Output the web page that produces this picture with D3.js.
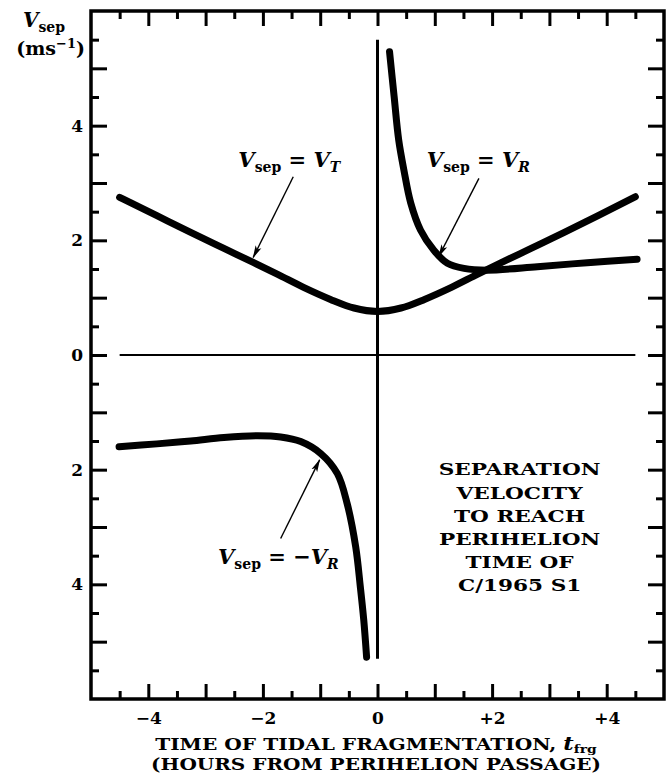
<!DOCTYPE html>
<html>
<head>
<meta charset="utf-8">
<script src="https://cdn.jsdelivr.net/npm/d3@7/dist/d3.min.js"></script>
<style>
  body { margin: 0; background: #fff; }
  svg { display: block; }
  .tick text { font-family: "DejaVu Serif", serif; font-weight: bold; font-size: 17px; fill: #000; }
  .tick line { stroke: #000; stroke-width: 3; }
  .curve { fill: none; stroke: #000; stroke-width: 7; stroke-linecap: round; stroke-linejoin: round; }
  .lbl { font-family: "DejaVu Serif", serif; font-weight: bold; fill: #000; }
</style>
</head>
<body>
<script>
// ---- data ----
var xTicks = [-4, -2, 0, 2, 4];
var xTickLabels = ["\u22124", "\u22122", "0", "+2", "+4"];
var yTicks = [4, 2, 0, -2, -4];
var yTickLabels = ["4", "2", "0", "2", "4"];

// V_sep = V_T
var vtX = [-4.5, -3.85, -3.26, -2.68, -2.16, -1.75, -1.29, -0.82, -0.41, 0, 0.41, 0.82, 1.29, 1.75, 2.16, 2.68, 3.26, 3.85, 4.5];
var vtY = [2.75, 2.43, 2.14, 1.86, 1.61, 1.41, 1.18, 0.97, 0.82, 0.76, 0.82, 0.97, 1.18, 1.41, 1.61, 1.86, 2.14, 2.43, 2.76];
// V_sep = V_R (after perihelion)
var vrX = [0.21, 0.29, 0.37, 0.46, 0.58, 0.75, 0.98, 1.22, 1.51, 1.91, 2.79, 3.66, 4.53];
var vrY = [5.29, 4.51, 3.75, 3.23, 2.65, 2.18, 1.83, 1.60, 1.51, 1.48, 1.54, 1.61, 1.67];
// V_sep = -V_R (before perihelion)
var nvrX = [-4.51, -3.85, -3.26, -2.68, -2.10, -1.69, -1.34, -0.99, -0.70, -0.53, -0.38, -0.30, -0.24, -0.19];
var nvrY = [-1.60, -1.55, -1.50, -1.44, -1.41, -1.43, -1.51, -1.72, -2.07, -2.59, -3.35, -4.04, -4.62, -5.27];

var noteLines = ["SEPARATION", "VELOCITY", "TO REACH", "PERIHELION", "TIME OF", "C/1965 S1"];

// ---- layout ----
var W = 670, H = 775;
var margin = {top: 11, left: 91};
var w = 573, h = 688;

var svg = d3.select("body").append("svg")
    .attr("width", W)
    .attr("height", H);

var defs = svg.append("defs");
defs.append("marker")
    .attr("id", "head")
    .attr("markerUnits", "userSpaceOnUse")
    .attr("viewBox", "0 -4 13 8")
    .attr("refX", 12).attr("refY", 0)
    .attr("markerWidth", 13).attr("markerHeight", 8)
    .attr("orient", "auto")
  .append("path")
    .attr("d", "M0,-3.2L13,0L0,3.2L3,0Z")
    .attr("fill", "#000");

var chart = svg.append("g")
    .attr("transform", "translate(" + margin.left + "," + margin.top + ")");

var x = d3.scaleLinear().domain([-5, 5]).range([0, w]);
var y = d3.scaleLinear().domain([-6, 6]).range([h, 0]);

var majorX = d3.range(-4, 5, 1), minorX = d3.range(-4.5, 5, 1);
var majorY = d3.range(-5, 6, 1), minorY = d3.range(-5.5, 6, 1);

function ticks(axis, vals, size, tr) {
  var g = chart.append("g")
      .attr("transform", tr)
      .call(axis.tickValues(vals).tickSize(size).tickFormat(""));
  g.select(".domain").remove();
  return g;
}

// inward ticks on all four sides
ticks(d3.axisBottom(x), majorX, -15, "translate(0," + h + ")");
ticks(d3.axisBottom(x), minorX, -8, "translate(0," + h + ")");
ticks(d3.axisTop(x), majorX, -15, "translate(0,0)");
ticks(d3.axisTop(x), minorX, -8, "translate(0,0)");
ticks(d3.axisLeft(y), majorY, -16, "translate(0,0)");
ticks(d3.axisLeft(y), minorY, -8, "translate(0,0)");
ticks(d3.axisRight(y), majorY, -16, "translate(" + w + ",0)");
ticks(d3.axisRight(y), minorY, -8, "translate(" + w + ",0)");

// tick labels
var xl = chart.append("g")
    .attr("transform", "translate(0," + h + ")")
    .call(d3.axisBottom(x).tickValues(xTicks).tickSize(0).tickPadding(13)
      .tickFormat(function(d, i) { return xTickLabels[i]; }));
xl.select(".domain").remove();

var yl = chart.append("g")
    .call(d3.axisLeft(y).tickValues(yTicks).tickSize(0).tickPadding(8)
      .tickFormat(function(d, i) { return yTickLabels[i]; }));
yl.select(".domain").remove();

// frame
chart.append("rect")
    .attr("x", 0).attr("y", 0)
    .attr("width", w).attr("height", h)
    .attr("fill", "none")
    .attr("stroke", "#000")
    .attr("stroke-width", 3.5);

// zero line and perihelion line
chart.append("line")
    .attr("x1", x(-4.5)).attr("x2", x(4.5))
    .attr("y1", y(0)).attr("y2", y(0))
    .attr("stroke", "#000").attr("stroke-width", 2);
chart.append("line")
    .attr("x1", x(0)).attr("x2", x(0))
    .attr("y1", y(5.5)).attr("y2", y(-5.3))
    .attr("stroke", "#000").attr("stroke-width", 3);

// curves
var lineT = d3.line()
    .x(function(d) { return x(d[0]); })
    .y(function(d) { return y(d[1]); })
    .curve(d3.curveMonotoneX);
var lineR = d3.line()
    .x(function(d) { return x(d[0]); })
    .y(function(d) { return y(d[1]); })
    .curve(d3.curveCatmullRom.alpha(0.5));

chart.append("path").attr("class", "curve").attr("d", lineT(d3.zip(vtX, vtY)));
chart.append("path").attr("class", "curve").attr("d", lineR(d3.zip(vrX, vrY)));
chart.append("path").attr("class", "curve").attr("d", lineR(d3.zip(nvrX, nvrY)));

// annotation arrows [x1, y1, x2, y2] in data units
var arrows = [
  [-1.47, 3.11, -2.17, 1.70],
  [1.77, 3.08, 1.07, 1.72],
  [-1.69, -3.20, -1.01, -1.83]
];
chart.selectAll(".arrow")
    .data(arrows)
    .enter().append("line")
    .attr("class", "arrow")
    .attr("x1", function(d) { return x(d[0]); })
    .attr("y1", function(d) { return y(d[1]); })
    .attr("x2", function(d) { return x(d[2]); })
    .attr("y2", function(d) { return y(d[3]); })
    .attr("stroke", "#000")
    .attr("stroke-width", 1.4)
    .attr("marker-end", "url(#head)");

// math labels
function mathLabel(cx, cy, pre, sub) {
  var t = chart.append("text")
      .attr("class", "lbl")
      .attr("x", x(cx)).attr("y", y(cy))
      .attr("text-anchor", "middle")
      .style("font-size", "21px");
  t.append("tspan").style("font-style", "italic").text("V");
  t.append("tspan").attr("baseline-shift", "-5").style("font-size", "14px").text("sep");
  t.append("tspan").text(" = " + pre);
  t.append("tspan").style("font-style", "italic").text("V");
  t.append("tspan").attr("baseline-shift", "-5").style("font-size", "14px").style("font-style", "italic").text(sub);
}
mathLabel(-1.54, 3.28, "", "T");
mathLabel(1.76, 3.28, "", "R");
mathLabel(-1.73, -3.65, "\u2212", "R");

// y axis title
var yt = svg.append("text").attr("class", "lbl")
    .attr("x", 65).attr("y", 27)
    .attr("text-anchor", "end")
    .style("font-size", "20px");
yt.append("tspan").style("font-style", "italic").text("V");
yt.append("tspan").attr("baseline-shift", "-5").style("font-size", "14px").text("sep");

var yu = svg.append("text").attr("class", "lbl")
    .attr("x", 85).attr("y", 55)
    .attr("text-anchor", "end")
    .style("font-size", "19px");
yu.append("tspan").text("(ms");
yu.append("tspan").attr("baseline-shift", "7").style("font-size", "13px").text("\u22121");
yu.append("tspan").attr("baseline-shift", "-0.01").text(")");

// note block
var nx = x(2.48);
chart.append("g")
    .attr("transform", "translate(" + nx + ",0) scale(1.35,1) translate(" + (-nx) + ",0)")
    .selectAll("text")
    .data(noteLines)
    .enter().append("text")
    .attr("class", "lbl")
    .attr("x", nx)
    .attr("y", function(d, i) { return y(-2.1) + i * 23.2; })
    .attr("text-anchor", "middle")
    .style("font-size", "16px")
    .text(function(d) { return d; });

// x axis title
var xt1 = svg.append("text").attr("class", "lbl")
    .attr("x", 376).attr("y", 750)
    .attr("text-anchor", "middle")
    .style("font-size", "16px")
    .attr("transform", "translate(376,0) scale(1.26,1) translate(-376,0)");
xt1.append("tspan").text("TIME OF TIDAL FRAGMENTATION, ");
xt1.append("tspan").style("font-style", "italic").style("font-size", "18px").text("t");
xt1.append("tspan").attr("baseline-shift", "-3").style("font-size", "11px").text("frg");

svg.append("text").attr("class", "lbl")
    .attr("x", 376).attr("y", 770)
    .attr("text-anchor", "middle")
    .style("font-size", "16px")
    .attr("transform", "translate(376,0) scale(1.25,1) translate(-376,0)")
    .text("(HOURS FROM PERIHELION PASSAGE)");
</script>
</body>
</html>
